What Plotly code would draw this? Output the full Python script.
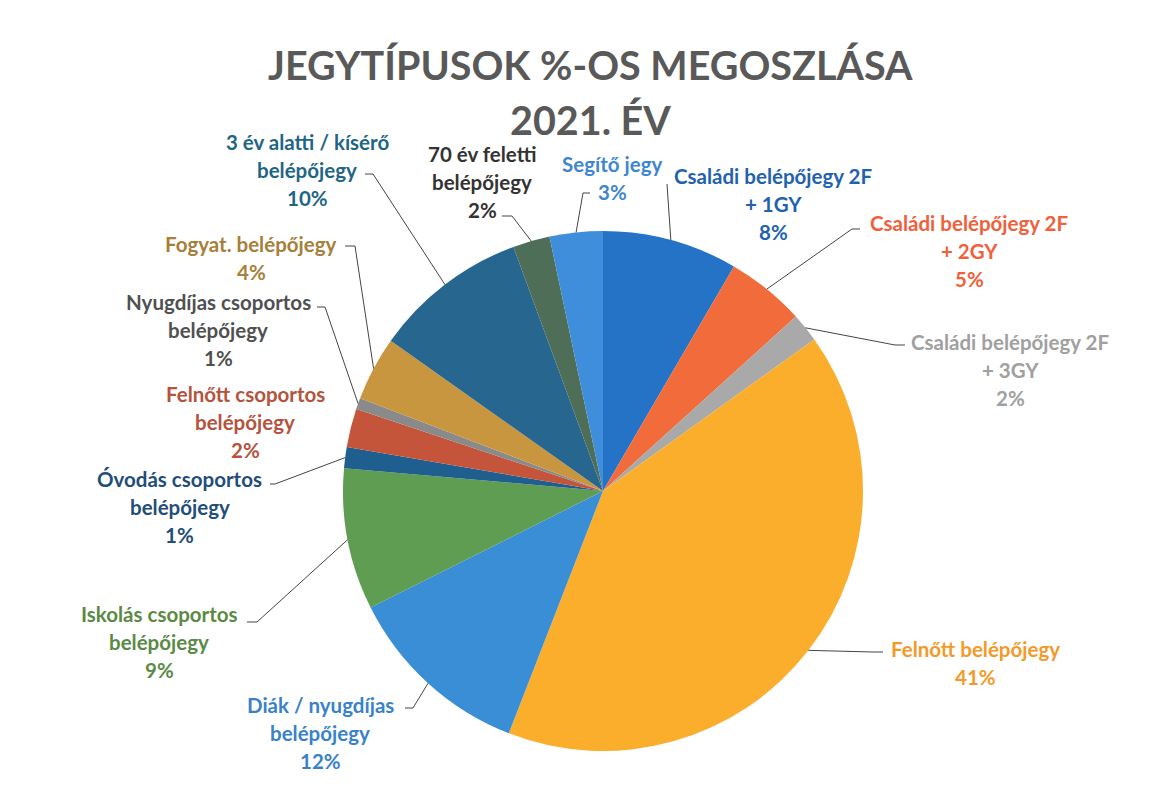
import math
import plotly.graph_objects as go

# ---------------- data ----------------
categories = [
    "Családi belépőjegy 2F + 1GY",
    "Családi belépőjegy 2F + 2GY",
    "Családi belépőjegy 2F + 3GY",
    "Felnőtt belépőjegy",
    "Diák / nyugdíjas belépőjegy",
    "Iskolás csoportos belépőjegy",
    "Óvodás csoportos belépőjegy",
    "Felnőtt csoportos belépőjegy",
    "Nyugdíjas csoportos belépőjegy",
    "Fogyat. belépőjegy",
    "3 év alatti / kísérő belépőjegy",
    "70 év feletti belépőjegy",
    "Segítő jegy",
]
shares = [8.4, 4.9, 1.8, 40.8, 11.7, 8.8, 1.3, 2.4, 0.7, 4.0, 9.6, 2.3, 3.3]
title_lines = ["JEGYTÍPUSOK %-OS MEGOSZLÁSA", "2021. ÉV"]

# ---------------- style / layout ----------------
PAGE_OFF = 8                       # default body margin of the html page
W, H = 1155 - PAGE_OFF, 789 - PAGE_OFF
CX, CY, R = 603, 491, 260          # pie centre / radius in page pixels
FONT = "Lato"

slice_colors = ["#2473C6", "#F26B3A", "#A9A9A9", "#FBAE2C", "#3A8ED6", "#5F9E52",
                "#1F5F8F", "#C4553A", "#8A8A8A", "#C8963E", "#26668F", "#4F6E58", "#3E8EDC"]
text_colors = ["#1F62B0", "#F0603A", "#A0A0A0", "#F39A2A", "#3A82C8", "#5A8A45",
               "#1F4E79", "#B5533C", "#505050", "#A6803A", "#1F6585", "#333333", "#3F86D0"]
# words on first line of each label (rest go to second line)
first_line_words = [3, 3, 3, 2, 3, 2, 2, 2, 2, 2, 5, 3, 2]
# label block: centre x, first-line y (page pixels)
label_pos = [(773, 176), (969, 223), (1010, 342), (975, 649), (320, 705), (159, 614),
             (180, 479), (245, 394), (218, 302), (251, 244), (307, 142), (482, 154), (612, 164)]
# leader line: start point at label and horizontal elbow length (None = no line)
leaders = [(667, 184, 0), (860, 229, -8), (905, 345, -10), (883, 652, -10), (405, 708, 8),
           (247, 622, 10), (270, 484, 5), None, (317, 307, 8), (345, 246, 10),
           (365, 174, 8), (502, 216, 10), (590, 193, -7)]
LINE_H = 28
LABEL_SIZE = 20.5


def px(x):
    return (x - PAGE_OFF) / W


def py(y):
    return 1 - (y - PAGE_OFF) / H


fig = go.Figure(go.Pie(
    labels=categories,
    values=shares,
    sort=False,
    direction="clockwise",
    rotation=0,
    marker=dict(colors=slice_colors, line=dict(width=0)),
    textinfo="none",
    hoverinfo="label+percent",
    showlegend=False,
    domain=dict(x=[px(CX - R), px(CX + R)], y=[py(CY + R), py(CY - R)]),
))

annotations = []
shapes = []
total = sum(shares)
cum = 0.0
for i, (name, v) in enumerate(zip(categories, shares)):
    mid = (cum + v / 2) / total * 2 * math.pi
    cum += v
    ax_ = CX + R * math.sin(mid)
    ay_ = CY - R * math.cos(mid)
    words = name.split(" ")
    n = first_line_words[i]
    lines = [" ".join(words[:n])]
    if n < len(words):
        lines.append(" ".join(words[n:]))
    lines.append(f"{round(v / total * 100)}%")
    lx, ly = label_pos[i]
    for k, t in enumerate(lines):
        annotations.append(dict(
            x=px(lx), y=py(ly + k * LINE_H), xref="paper", yref="paper",
            text=t, showarrow=False, xanchor="center", yanchor="middle",
            font=dict(family=FONT, size=LABEL_SIZE, color=text_colors[i], weight="bold"),
        ))
    if leaders[i] is not None:
        sx, sy, el = leaders[i]
        path = (f"M {px(sx)} {py(sy)} L {px(sx + el)} {py(sy)} "
                f"L {px(ax_)} {py(ay_)}")
        shapes.append(dict(type="path", path=path, xref="paper", yref="paper",
                           line=dict(color="#454545", width=1)))

for k, t in enumerate(title_lines):
    annotations.append(dict(
        x=px(590), y=py(64 + k * 56), xref="paper", yref="paper", text=t,
        showarrow=False, xanchor="center", yanchor="middle",
        font=dict(family=FONT, size=39.5, color="#595959", weight="bold"),
    ))

fig.update_layout(
    width=W, height=H,
    margin=dict(l=0, r=0, t=0, b=0),
    paper_bgcolor="white",
    plot_bgcolor="white",
    annotations=annotations,
    shapes=shapes,
)

fig.write_html("out.html")
